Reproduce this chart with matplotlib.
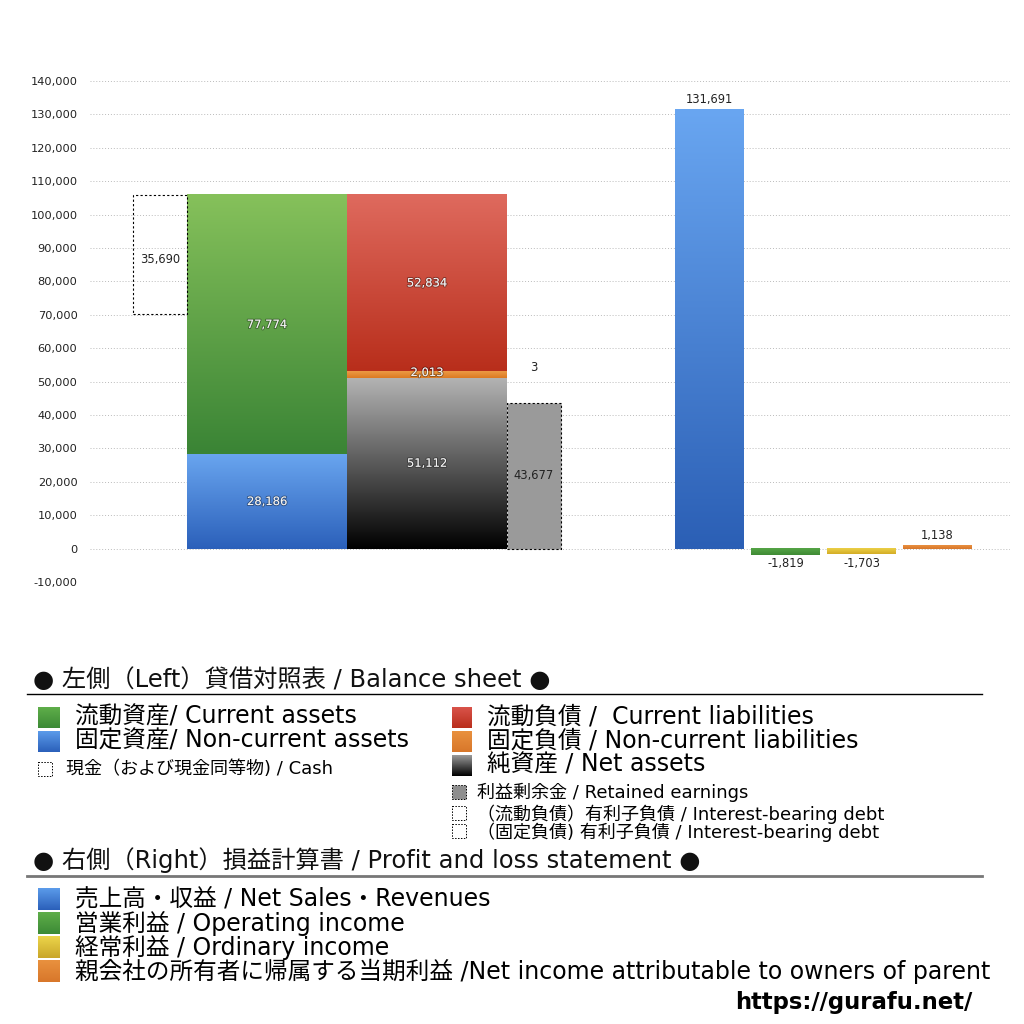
import numpy as np
import matplotlib
matplotlib.use("Agg")
import matplotlib.pyplot as plt
from matplotlib.colors import LinearSegmentedColormap
from matplotlib.patches import Rectangle
import matplotlib.patheffects as pe

plt.rcParams['font.family'] = ['DejaVu Sans', 'Noto Sans CJK JP']

# ---------------- data ----------------
current_assets = 77774
noncurrent_assets = 28186
cash = 35690
current_liabilities = 52834
noncurrent_liabilities = 2013
net_assets = 51112
retained_earnings = 43677
interest_bearing_debt = 3

pl_labels = ["売上高・収益", "営業利益", "経常利益", "親会社の所有者に帰属する当期利益"]
pl_values = [131691, -1819, -1703, 1138]

yticks = list(range(-10000, 140001, 10000))

# ---------------- layout / style ----------------
W = 1024
fig = plt.figure(figsize=(10.24, 10.24), dpi=100)
ax_left_px, ax_right_px = 90, 1010
y_top_px, y_bot_px = 81, 582
ax = fig.add_axes([ax_left_px / W, 1 - y_bot_px / W,
                   (ax_right_px - ax_left_px) / W, (y_bot_px - y_top_px) / W])

LBL = 8.3


def grad_rect(a, x, w, y0, h, c_top, c_bot, z=2):
    cmap = LinearSegmentedColormap.from_list("g", [c_bot, c_top])
    g = np.linspace(0, 1, 256).reshape(-1, 1)
    lo, hi = min(y0, y0 + h), max(y0, y0 + h)
    a.imshow(g, extent=[x, x + w, lo, hi], origin="lower", cmap=cmap,
             aspect="auto", zorder=z, interpolation="bilinear")


def inlabel(x, y, s, color="#f4f4f4", shadow=True):
    t = ax.text(x, y, s, ha="center", va="center", fontsize=LBL, color=color,
                family=["DejaVu Sans"], zorder=5)
    if shadow:
        t.set_path_effects([pe.withStroke(linewidth=1.4, foreground=(0, 0, 0, 0.35))])


# bar x-positions in axis units (left edge, width)
cash_x, cash_w = 43, 54
asset_x, asset_w = 97, 160
liab_x, liab_w = 257, 160
ret_x, ret_w = 417, 54
pl_x = [585, 661, 737, 813]
pl_w = 69

# Left: balance sheet
grad_rect(ax, asset_x, asset_w, 0, noncurrent_assets, "#69a5ef", "#2b60ba")
grad_rect(ax, asset_x, asset_w, noncurrent_assets, current_assets, "#86c15b", "#3a8435")
inlabel(asset_x + asset_w / 2, noncurrent_assets / 2, f"{noncurrent_assets:,}")
inlabel(asset_x + asset_w / 2, noncurrent_assets + current_assets / 2, f"{current_assets:,}")

total_assets = noncurrent_assets + current_assets
ax.bar(cash_x, cash, width=cash_w, bottom=total_assets - cash, align="edge",
       fill=False, edgecolor="black", linestyle=(0, (2, 2)), linewidth=0.8, zorder=3)
ax.text(cash_x + cash_w / 2, total_assets - cash / 2 - 1500, f"{cash:,}", ha="center",
        va="center", fontsize=LBL, color="#222222", family=["DejaVu Sans"])

grad_rect(ax, liab_x, liab_w, 0, net_assets, "#b3b3b3", "#000000")
grad_rect(ax, liab_x, liab_w, net_assets, noncurrent_liabilities, "#ec9a45", "#dc7a22")
cl_bottom = net_assets + noncurrent_liabilities
grad_rect(ax, liab_x, liab_w, cl_bottom, current_liabilities, "#df6a5e", "#b82e1b")
inlabel(liab_x + liab_w / 2, net_assets / 2, f"{net_assets:,}")
inlabel(liab_x + liab_w / 2, net_assets + noncurrent_liabilities / 2 + 600, f"{noncurrent_liabilities:,}")
inlabel(liab_x + liab_w / 2, cl_bottom + current_liabilities / 2, f"{current_liabilities:,}")

ax.bar(ret_x, retained_earnings, width=ret_w, bottom=0, align="edge",
       color="#9a9a9a", edgecolor="black", linestyle=(0, (2, 2)), linewidth=0.8, zorder=3)
ax.text(ret_x + ret_w / 2, retained_earnings / 2, f"{retained_earnings:,}", ha="center",
        va="center", fontsize=LBL, color="#222222", family=["DejaVu Sans"], zorder=5)

ax.bar(ret_x, interest_bearing_debt, width=ret_w, bottom=cl_bottom, align="edge",
       fill=False, edgecolor="none", zorder=3)
ax.text(ret_x + ret_w / 2, cl_bottom + 1100, f"{interest_bearing_debt:,}", ha="center",
        va="center", fontsize=LBL, color="#222222", family=["DejaVu Sans"])

# Right: P/L
pl_colors = [("#69a6f1", "#2b5fb5"), ("#55a547", "#3f8a34"),
             ("#ecd048", "#d3ac25"), ("#e99040", "#d7762a")]
for x, v, (ct, cb) in zip(pl_x, pl_values, pl_colors):
    grad_rect(ax, x, pl_w, 0, v, ct, cb)
    if v >= 0:
        ax.text(x + pl_w / 2, v + 800, f"{v:,}", ha="center", va="bottom", fontsize=LBL,
                color="#222222", family=["DejaVu Sans"])
    else:
        ax.text(x + pl_w / 2, v - 800, f"{v:,}", ha="center", va="top", fontsize=LBL,
                color="#222222", family=["DejaVu Sans"])

ax.set_xlim(0, ax_right_px - ax_left_px)
ax.set_ylim(-10000, 140000)
ax.set_yticks(yticks)
ax.set_yticklabels([f"{t:,}" for t in yticks], fontsize=8.2, family=["DejaVu Sans"], color="#222222")
ax.tick_params(axis="y", length=0, pad=9)
ax.set_xticks([])
ax.grid(axis="y", color="#bbbbbb", linestyle=(0, (1, 2)), linewidth=0.7)
ax.set_axisbelow(True)
for s in ax.spines.values():
    s.set_visible(False)

# ---------------- legend (figure pixel coordinates) ----------------
lg = fig.add_axes([0, 0, 1, 1], zorder=-1)
lg.set_xlim(0, W)
lg.set_ylim(W, 0)
lg.axis("off")

fam = ['DejaVu Sans', 'Noto Sans CJK JP']
HEAD = 17.5
BIG = 17
SMALL = 13


def sq(x, y, w, h, ct, cb):
    cmap = LinearSegmentedColormap.from_list("g", [ct, cb])
    g = np.linspace(0, 1, 64).reshape(-1, 1)
    lg.imshow(g, extent=[x, x + w, y + h, y], cmap=cmap, aspect="auto", origin="upper")


def dsq(x, y, w, h, fc="none"):
    lg.add_patch(Rectangle((x, y), w, h, facecolor=fc, edgecolor="black",
                           linestyle=(0, (1.5, 1.5)), linewidth=0.7))


lg.text(33, 680, "● 左側（Left）貸借対照表 / Balance sheet ●", fontsize=HEAD, va="center",
        family=fam, color="#111111")
lg.plot([27, 982], [694, 694], color="black", linewidth=1)

lg.text(75, 717, "流動資産/ Current assets", fontsize=BIG, va="center", family=fam)
sq(38, 707, 22, 21, "#5fae4a", "#3c8a35")
lg.text(75, 741, "固定資産/ Non-current assets", fontsize=BIG, va="center", family=fam)
sq(38, 731, 22, 21, "#5b9bea", "#2b60ba")
dsq(38, 762, 14, 14)
lg.text(66, 769, "現金（および現金同等物) / Cash", fontsize=SMALL, va="center", family=fam)

lg.text(487, 717, "流動負債 /  Current liabilities", fontsize=BIG, va="center", family=fam)
sq(452, 707, 20, 21, "#d9534a", "#b92e1c")
lg.text(487, 741, "固定負債 / Non-current liabilities", fontsize=BIG, va="center", family=fam)
sq(452, 731, 20, 21, "#e9913f", "#d8772a")
lg.text(487, 765, "純資産 / Net assets", fontsize=BIG, va="center", family=fam)
sq(452, 755, 20, 21, "#9a9a9a", "#000000")
dsq(452, 785, 14, 14, fc="#8e8e8e")
lg.text(477, 792, "利益剰余金 / Retained earnings", fontsize=SMALL, va="center", family=fam)
dsq(452, 806, 14, 14)
lg.text(477, 814, "（流動負債）有利子負債 / Interest-bearing debt", fontsize=SMALL, va="center", family=fam)
dsq(452, 824, 14, 14)
lg.text(477, 832, "（固定負債) 有利子負債 / Interest-bearing debt", fontsize=SMALL, va="center", family=fam)

lg.text(33, 860, "● 右側（Right）損益計算書 / Profit and loss statement ●", fontsize=HEAD,
        va="center", family=fam, color="#111111")
lg.plot([27, 982], [876, 876], color="#777777", linewidth=2)

pl_legend_text = [
    "売上高・収益 / Net Sales・Revenues",
    "営業利益 / Operating income",
    "経常利益 / Ordinary income",
    "親会社の所有者に帰属する当期利益 /Net income attributable to owners of parent",
]
pl_legend_cols = [("#5b9bea", "#2b60ba"), ("#5fae4a", "#3c8a35"),
                  ("#ecd54a", "#c9a62a"), ("#e9913f", "#d8772a")]
for i, (txt, (ct, cb)) in enumerate(zip(pl_legend_text, pl_legend_cols)):
    yc = 899 + 24 * i
    sq(38, yc - 11, 22, 22, ct, cb)
    lg.text(75, yc, txt, fontsize=BIG, va="center", family=fam)

lg.text(972, 1002, "https://gurafu.net/", fontsize=16.4, va="center", ha="right",
        family=["DejaVu Sans"], fontweight="bold")

fig.savefig("out.png", dpi=100)
